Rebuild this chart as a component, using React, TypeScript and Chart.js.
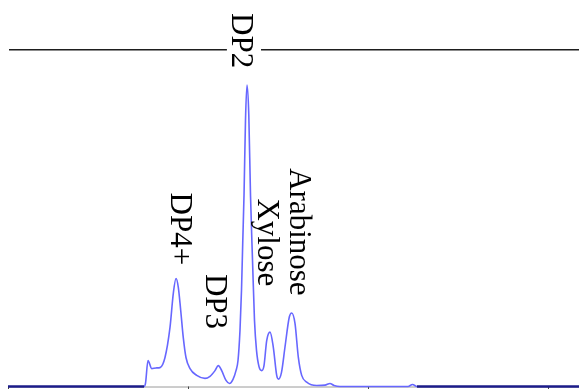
import { useEffect, useRef } from "react";
import { Chart, registerables } from "chart.js";

Chart.register(...registerables);

// Retention time (min)
const times = [
  0, 3.778, 3.819, 3.889, 3.992, 4.111, 4.222, 4.361, 4.5, 4.592, 4.667, 4.731, 4.797,
  4.869, 4.944, 5.056, 5.242, 5.472, 5.611, 5.75, 5.842, 5.936, 6.056, 6.153, 6.25,
  6.333, 6.389, 6.444, 6.486, 6.522, 6.556, 6.597, 6.639, 6.689, 6.736, 6.792, 6.847,
  6.903, 6.972, 7.047, 7.111, 7.186, 7.278, 7.369, 7.464, 7.514, 7.597, 7.694, 7.814,
  7.881, 7.972, 8.064, 8.158, 8.297, 8.575, 8.806, 8.944, 9.056, 9.222, 11.111, 11.236,
  11.361, 15.861,
];

// Detector response (% of full scale)
const response = [
  0, 0, 0.9, 7.7, 5.3, 5.5, 5.6, 8.6, 17.5, 27.6, 32.0, 29.4, 22.6,
  14.5, 8.6, 5.3, 3.3, 2.4, 3.0, 4.7, 6.2, 4.7, 1.8, 0.9, 2.1,
  4.7, 7.7, 16.6, 28.5, 43.3, 56.7, 78.9, 89.3, 80.4, 56.7, 37.4, 19.6,
  10.7, 5.9, 4.7, 6.2, 13.6, 16.1, 11.7, 3.3, 2.2, 4.2, 11.7, 20.6,
  21.8, 18.7, 8.7, 3.3, 1.3, 0.3, 0.4, 0.9, 0.3, 0, 0, 0.6,
  0, 0,
];

const peakNames = ["DP4+", "DP3", "DP2", "Xylose", "Arabinose"];
const axisTicks = [0, 5, 10, 15];

// Where each peak name is written: retention time of its baseline,
// response at the middle of the text.
const labelAnchors = [
  { t: 4.54, v: 46.7 },
  { t: 5.51, v: 25.2 },
  { t: 6.21, v: 102.5 },
  { t: 6.94, v: 42.7 },
  { t: 7.82, v: 45.8 },
];

const LABEL_SIZE = 31;
const LABEL_FONT = `${LABEL_SIZE}px "Liberation Serif", "Times New Roman", serif`;

const chromatogramDecor = {
  id: "chromatogramDecor",
  beforeDatasetsDraw(chart: any) {
    const { ctx, chartArea: a, scales } = chart;
    const y0 = scales.y.getPixelForValue(0);
    ctx.save();
    // baseline axis
    ctx.strokeStyle = "#9a9a9a";
    ctx.lineWidth = 1;
    ctx.beginPath();
    ctx.moveTo(a.left + 1, y0 + 0.5);
    ctx.lineTo(a.right, y0 + 0.5);
    ctx.stroke();
    // time ticks
    ctx.strokeStyle = "#444";
    ctx.beginPath();
    axisTicks.forEach((t) => {
      const x = Math.round(scales.x.getPixelForValue(t)) + 0.5;
      ctx.moveTo(x, y0);
      ctx.lineTo(x, y0 + 3);
    });
    ctx.stroke();
    // top rule
    ctx.fillStyle = "#1e1e1e";
    ctx.fillRect(a.left + 1, a.top, a.right - a.left - 1, 1);
    ctx.fillStyle = "#8c8c8c";
    ctx.fillRect(a.left + 1, a.top + 1, a.right - a.left - 1, 1);
    ctx.restore();
  },
  afterDatasetsDraw(chart: any) {
    const { ctx, chartArea: a, scales } = chart;
    ctx.save();
    ctx.font = LABEL_FONT;
    ctx.textAlign = "center";
    ctx.textBaseline = "alphabetic";
    peakNames.forEach((name, i) => {
      const anchor = labelAnchors[i];
      const x = scales.x.getPixelForValue(anchor.t);
      const y = scales.y.getPixelForValue(anchor.v);
      const w = ctx.measureText(name).width;
      ctx.save();
      ctx.translate(x, y);
      ctx.rotate(Math.PI / 2);
      if (y - w / 2 < a.top + 2 && y + w / 2 > a.top - 1) {
        // knock the top rule out behind the label
        ctx.fillStyle = "#ffffff";
        ctx.fillRect(-w / 2, -0.95 * LABEL_SIZE, w, 1.1 * LABEL_SIZE);
      }
      ctx.fillStyle = "#000000";
      ctx.fillText(name, 0, 0);
      ctx.restore();
    });
    ctx.restore();
  },
};

export default function App() {
  const canvasRef = useRef<HTMLCanvasElement | null>(null);

  useEffect(() => {
    if (!canvasRef.current) return;
    const chart = new Chart(canvasRef.current, {
      type: "line",
      data: {
        datasets: [
          {
            data: times.map((t, i) => ({ x: t, y: response[i] })),
            borderColor: "#6767ff",
            borderWidth: 1.6,
            pointRadius: 0,
            cubicInterpolationMode: "monotone",
            clip: false as any,
            segment: {
              borderColor: (c: any) =>
                c.p0.parsed.y === 0 && c.p1.parsed.y === 0 && c.p1.parsed.x - c.p0.parsed.x > 3
                  ? "#1c1c8a"
                  : undefined,
              borderWidth: (c: any) =>
                c.p0.parsed.y === 0 && c.p1.parsed.y === 0 && c.p1.parsed.x - c.p0.parsed.x > 3
                  ? 2.4
                  : undefined,
            },
          },
        ],
      },
      options: {
        responsive: false,
        animation: false,
        events: [],
        layout: { padding: { top: 41, bottom: 2.5, left: 0, right: 0 } },
        scales: {
          x: { type: "linear", min: 0, max: 15.861, display: false },
          y: { min: 0, max: 100, display: false },
        },
        plugins: {
          legend: { display: false },
          tooltip: { enabled: false },
        },
      },
      plugins: [chromatogramDecor],
    });
    return () => chart.destroy();
  }, []);

  return (
    <div style={{ position: "fixed", left: 8, top: 8, width: 571, height: 381 }}>
      <canvas ref={canvasRef} width={571} height={381} style={{ display: "block" }} />
    </div>
  );
}
